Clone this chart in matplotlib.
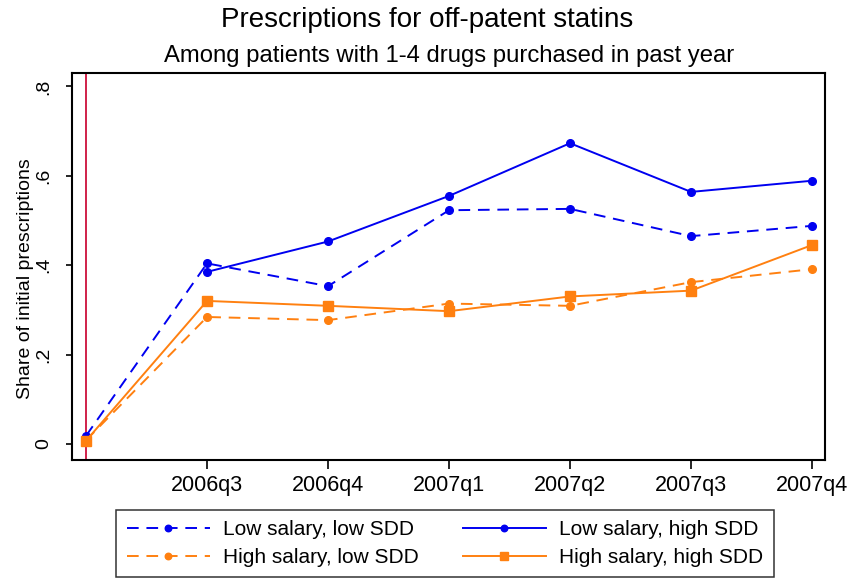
import numpy as np
import matplotlib.pyplot as plt

plt.rcParams['font.family'] = ['Liberation Sans', 'DejaVu Sans']

quarters = ['2006q2', '2006q3', '2006q4', '2007q1', '2007q2', '2007q3', '2007q4']
low_sal_low_sdd = [0.018, 0.404, 0.353, 0.523, 0.526, 0.465, 0.488]
low_sal_high_sdd = [np.nan, 0.385, 0.453, 0.555, 0.673, 0.564, 0.589]
high_sal_low_sdd = [0.008, 0.284, 0.277, 0.314, 0.309, 0.362, 0.391]
high_sal_high_sdd = [0.007, 0.320, 0.309, 0.297, 0.330, 0.343, 0.445]

blue = '#0000F0'
orange = '#FF8010'
dash = (0, (6, 4))

fig = plt.figure(figsize=(8.54, 5.8), dpi=100)
ax = fig.add_axes([0.0843, 0.207, 0.8817, 0.667])
x = np.arange(len(quarters))

l1, = ax.plot(x, low_sal_low_sdd, color=blue, ls=dash, lw=1.4,
              marker='o', ms=5.5, label='Low salary, low SDD')
l2, = ax.plot(x, low_sal_high_sdd, color=blue, ls='-', lw=1.4,
              marker='o', ms=5.5, label='Low salary, high SDD')
l3, = ax.plot(x, high_sal_low_sdd, color=orange, ls=dash, lw=1.4,
              marker='o', ms=5.5, label='High salary, low SDD')
l4, = ax.plot(x, high_sal_high_sdd, color=orange, ls='-', lw=1.4,
              marker='s', ms=6.5, label='High salary, high SDD')

ax.axvline(0, color='#D0204A', lw=1.4, zorder=0)

ax.set_xlim(-0.116, 6.107)
ax.set_ylim(-0.036, 0.830)
ax.set_xticks(x[1:])
ax.set_xticklabels(quarters[1:], fontsize=15.5)
ax.set_yticks([0, 0.2, 0.4, 0.6, 0.8])
ax.set_yticklabels(['0', '.2', '.4', '.6', '.8'], fontsize=14, rotation=90, va='center')
ax.tick_params(axis='x', direction='out', length=6.5, width=1.2, pad=4)
ax.tick_params(axis='y', direction='out', length=4.5, width=1.2, pad=10)
ax.set_ylabel('Share of initial prescriptions', fontsize=14)
ax.yaxis.set_label_coords(-0.051, 0.468)
for s in ax.spines.values():
    s.set_linewidth(1.5)

fig.text(0.50, 0.966, 'Prescriptions for off-patent statins', ha='center', va='center', fontsize=20)
fig.text(0.526, 0.903, 'Among patients with 1-4 drugs purchased in past year', ha='center', va='center', fontsize=17.2)

leg = fig.legend([l1, l3, l2, l4], [h.get_label() for h in [l1, l3, l2, l4]],
                 ncol=2, loc='center', bbox_to_anchor=(0.521, 0.063), fontsize=15,
                 frameon=True, fancybox=False, edgecolor='black', handlelength=4.0,
                 handletextpad=0.63, columnspacing=2.1, labelspacing=0.42,
                 borderpad=0.5, markerscale=0.85)
leg.get_frame().set_linewidth(1.1)

fig.savefig('out.png', dpi=100)
